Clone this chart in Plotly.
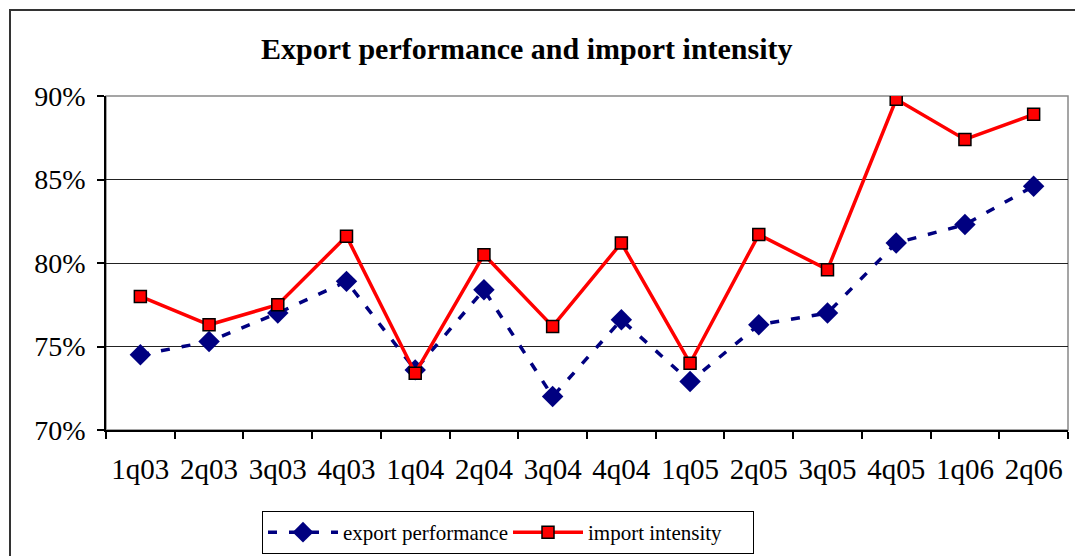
import plotly.graph_objects as go

categories = ["1q03", "2q03", "3q03", "4q03", "1q04", "2q04", "3q04", "4q04",
              "1q05", "2q05", "3q05", "4q05", "1q06", "2q06"]
export_perf = [74.5, 75.3, 77.0, 78.9, 73.6, 78.4, 72.0, 76.6, 72.9, 76.3, 77.0, 81.2, 82.3, 84.6]
import_int = [78.0, 76.3, 77.5, 81.6, 73.4, 80.5, 76.2, 81.2, 74.0, 81.7, 79.6, 89.8, 87.4, 88.9]
y_ticks = [70, 75, 80, 85, 90]
y_tick_text = ["70%", "75%", "80%", "85%", "90%"]

FONT = "Liberation Serif"

fig = go.Figure()
fig.add_trace(go.Scatter(
    x=categories, y=export_perf, name="export performance", mode="lines+markers",
    line=dict(color="#000080", width=3.5, dash="9px,12px"),
    marker=dict(symbol="diamond", size=16.5, color="#000080", line=dict(width=0)),
))
fig.add_trace(go.Scatter(
    x=categories, y=import_int, name="import intensity", mode="lines+markers",
    line=dict(color="#ff0000", width=3.5),
    marker=dict(symbol="square", size=12, color="#ff0000", line=dict(color="black", width=1.5)),
))

fig.update_layout(
    width=1075, height=556,
    margin=dict(l=106, r=7, t=96, b=126, autoexpand=False),
    paper_bgcolor="white", plot_bgcolor="white",
    font=dict(family=FONT, color="black"),
    title=dict(text="<b>Export performance and import intensity</b>",
               x=0.49, xref="container", xanchor="center",
               y=1 - 48 / 556, yref="container", yanchor="middle",
               font=dict(family=FONT, size=30, color="black")),
    showlegend=True,
    legend=dict(orientation="h", x=262 / 1075, xref="container", xanchor="left",
                y=1 - 511 / 556, yref="container", yanchor="top",
                itemwidth=70, entrywidth=160, entrywidthmode="pixels",
                bordercolor="black", borderwidth=1, bgcolor="white",
                font=dict(family=FONT, size=21, color="black")),
    shapes=[
        dict(type="rect", xref="paper", yref="paper",
             x0=(10 - 106) / 962, x1=1.2, y0=-0.6, y1=(430 - 10) / 334,
             line=dict(color="#333333", width=2), fillcolor="rgba(0,0,0,0)", layer="below"),
        dict(type="rect", xref="paper", yref="paper", x0=0, x1=1, y0=0, y1=1,
             line=dict(color="#888888", width=1.5), fillcolor="rgba(0,0,0,0)", layer="below"),
    ],
)

fig.update_xaxes(
    type="category", range=[-0.5, 13.5], automargin=False,
    showgrid=False, showline=True, linecolor="black", linewidth=1.5,
    ticks="outside", tickson="boundaries", ticklen=7, tickcolor="black", tickwidth=1.5,
    ticklabelstandoff=12,
    tickfont=dict(family=FONT, size=29, color="black"),
)
fig.update_yaxes(
    range=[70, 90], tickvals=y_ticks, ticktext=y_tick_text, automargin=False,
    showgrid=True, gridcolor="#222222", gridwidth=1,
    showline=True, linecolor="black", linewidth=1.5,
    ticks="outside", ticklen=7, tickcolor="black", tickwidth=1.5,
    ticklabelstandoff=6, zeroline=False,
    tickfont=dict(family=FONT, size=28, color="black"),
)

fig.write_html("out.html", config={"displayModeBar": False},
               post_script="document.body.style.margin='0';document.body.style.padding='0';document.body.style.overflow='hidden';")
